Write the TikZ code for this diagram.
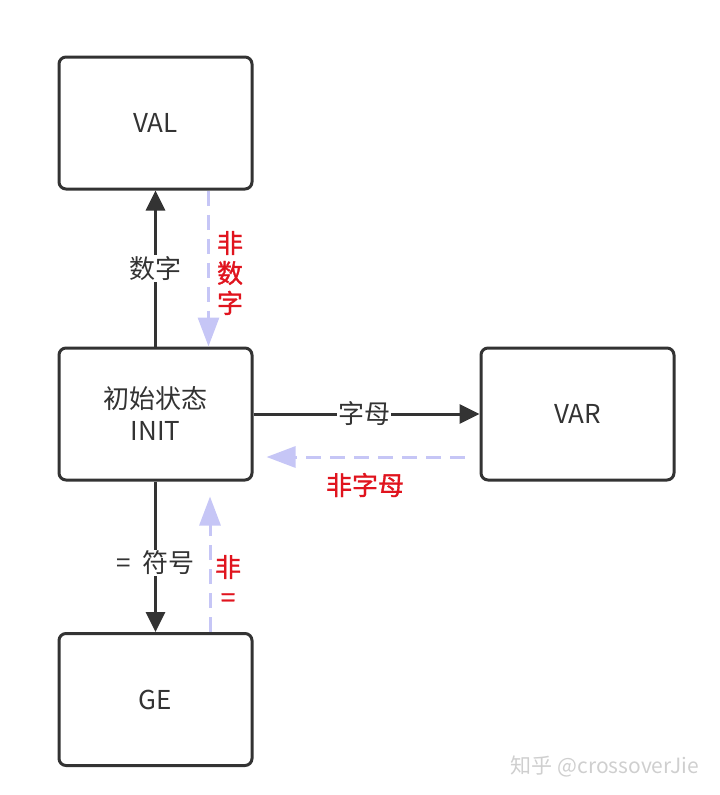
\documentclass[tikz,border=0pt]{standalone}
\usepackage{fontspec}
\setmainfont{Noto Sans CJK SC}
\newfontfamily\redfont[FakeBold=1.2]{Noto Sans CJK SC}
\usetikzlibrary{arrows.meta}
\definecolor{linegray}{HTML}{333333}
\definecolor{lavender}{HTML}{C6C6F6}
\definecolor{labelred}{HTML}{E0141E}
\definecolor{markgray}{HTML}{CFCFCF}
\begin{document}
\begin{tikzpicture}[x=1pt,y=-1pt,
    state/.style={draw=linegray, line width=3pt, rounded corners=7pt, minimum width=193pt, minimum height=132pt, font=\fontsize{26}{32}\selectfont, text=linegray, align=center},
    go/.style={draw=linegray, line width=3pt, -{Triangle[length=20pt,width=19pt]}},
    back/.style={draw=lavender, line width=3pt, dash pattern=on 15pt off 9pt, -{Triangle[length=29pt,width=21pt]}},
    tag/.style={fill=white, inner sep=1pt, font=\fontsize{26}{30}\selectfont, text=linegray},
    notag/.style={font=\fontsize{26}{30}\selectfont\redfont, text=labelred, align=center}]
      \useasboundingbox (0,0) rectangle (720,795);
      \node[state] (val) at (155.5,123) {VAL};
      \node[state] (init) at (155.5,414) {初始状态\\INIT};
      \node[state] (var) at (577.5,414) {VAR};
      \node[state] (ge) at (155.5,699.5) {GE};
      % forward moves
      \draw[go] (init.north) -- (val.south) node[tag, pos=0.5] (l1) {数字};
      \draw[go] (init.east) -- (var.west) node[tag, pos=0.49] (l2) {字母};
      \draw[go] (init.south) -- (ge.north) node[tag, pos=0.54] (l3) {=\hspace{0.45em}符号};
      % fall back to INIT
      \draw[back] ([xshift=53pt]val.south) -- ([xshift=53pt]init.north);
      \draw[back] ([xshift=-15pt,yshift=-43pt]var.west) -- ([xshift=13pt,yshift=-43pt]init.east);
      \draw[back] ([xshift=54.5pt]ge.north) -- ([xshift=54.5pt,yshift=-15pt]init.south);
      \node[notag] (n1) at (230,273) {非\\数\\字};
      \node[notag] (n2) at (365,485) {非字母};
      \node[notag] (n3) at (228,581) {非\\=};
      \node[text=markgray, font=\fontsize{21}{24}\selectfont] (mark) at (605,766) {知乎 @crossoverJie};
\end{tikzpicture}
\end{document}
